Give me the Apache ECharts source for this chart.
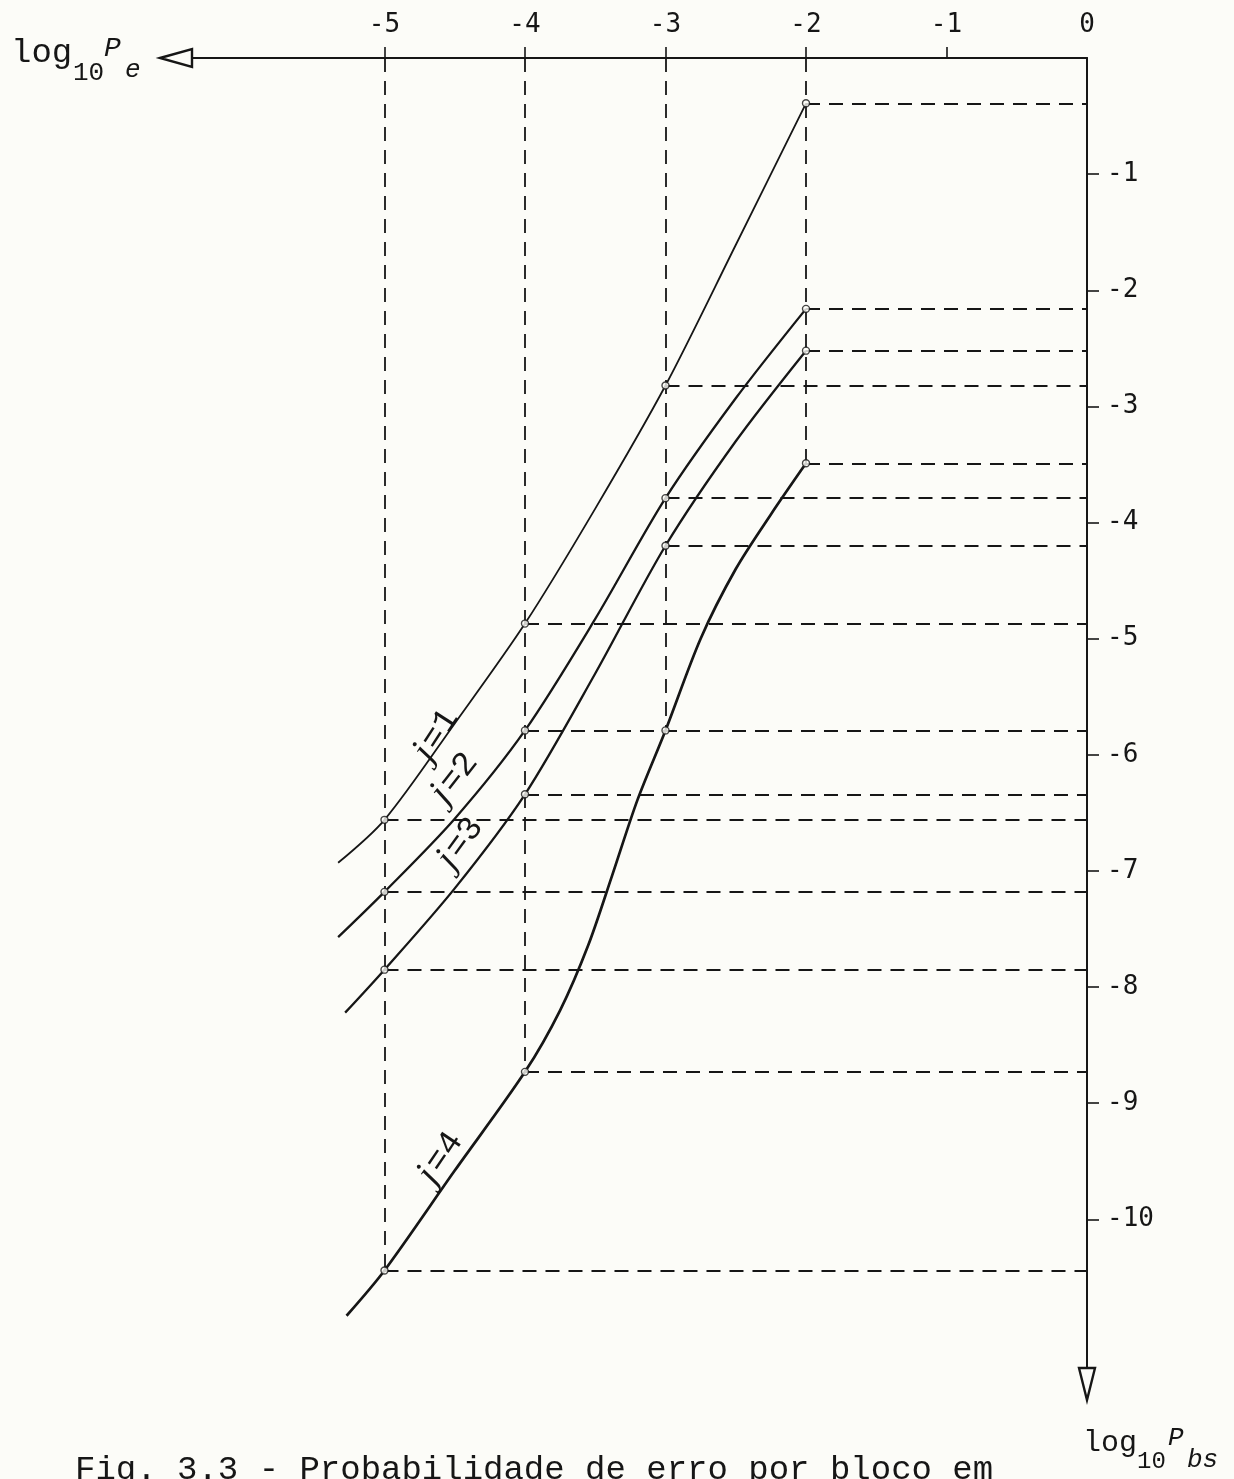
<!DOCTYPE html>
<html><head><meta charset="utf-8">
<script src="https://cdn.jsdelivr.net/npm/echarts@6/dist/echarts.min.js"></script>
<style>html,body{margin:0;padding:0;background:#fcfcf8;}#c{width:1234px;height:1479px;}</style>
</head><body><div id="c"></div>
<script>
// ---- data (log10 Pbs on x, log10 Pe on y) ----
const xTickValues = [-5, -4, -3, -2, -1];
const xLabelValues = [-5, -4, -3, -2, -1, 0];
const yLabelValues = [-1, -2, -3, -4, -5, -6, -7, -8, -9, -10];
const pointX = [-5, -4, -3, -2];
const j1Points = [-6.56, -4.87, -2.82, -0.39];
const j2Points = [-7.18, -5.79, -3.79, -2.16];
const j3Points = [-7.85, -6.34, -4.20, -2.52];
const j4Points = [-10.44, -8.73, -5.79, -3.49];
// curves (including the short tails left of -5)
const j1Curve = [[-5.33, -6.93], [-5, -6.56], [-4.5, -5.73], [-4, -4.87], [-3.5, -3.88], [-3, -2.82], [-2.5, -1.61], [-2, -0.39]];
const j2Curve = [[-5.33, -7.57], [-5, -7.18], [-4.5, -6.55], [-4, -5.79], [-3.5, -4.83], [-3, -3.79], [-2.5, -2.93], [-2, -2.16]];
const j3Curve = [[-5.28, -8.22], [-5, -7.85], [-4.5, -7.15], [-4, -6.34], [-3.5, -5.30], [-3, -4.20], [-2.5, -3.30], [-2, -2.52]];
const j4Curve = [[-5.27, -10.83], [-5, -10.44], [-4.5, -9.58], [-4, -8.73], [-3.75, -8.20], [-3.55, -7.64], [-3.38, -7.04], [-3.20, -6.39], [-3, -5.79], [-2.75, -5.00], [-2.50, -4.40], [-2.25, -3.93], [-2, -3.49]];
const curveNames = ['j=1', 'j=2', 'j=3', 'j=4'];
// label anchors (data coords) and text angles (deg)
const labelAnchors = [[-4.63, -5.83], [-4.50, -6.20], [-4.46, -6.76], [-4.60, -9.47]];
const labelAngles = [57, 52, 54, 56];

const INK = '#161616';
const PAPER = '#fcfcf8';
const chart = echarts.init(document.getElementById('c'), null, {renderer: 'canvas'});

const allPoints = [j1Points, j2Points, j3Points, j4Points];
const guides = [];
const seenY = {};
pointX.forEach((x, i) => {
  const ys = allPoints.map(a => a[i]);
  guides.push({coords: [[x, 0], [x, Math.min(...ys)]]});
});
pointX.forEach((x, i) => {
  allPoints.forEach(a => {
    const y = a[i];
    const key = y.toFixed(2);
    if (seenY[key]) return;
    seenY[key] = true;
    guides.push({coords: [[x, y], [0, y]]});
  });
});

const curves = [j1Curve, j2Curve, j3Curve, j4Curve];
const widths = [1.8, 2.3, 2.3, 2.7];
const series = [];
series.push({
  type: 'lines', coordinateSystem: 'cartesian2d', silent: true, z: 1,
  lineStyle: {color: INK, width: 1.8, type: [14, 9], opacity: 1},
  data: guides
});
curves.forEach((c, k) => {
  series.push({
    type: 'line', name: curveNames[k], data: c, smooth: 0.3, showSymbol: false, silent: true, z: 3,
    lineStyle: {color: INK, width: widths[k]}
  });
  series.push({
    type: 'scatter', data: pointX.map((x, i) => [x, allPoints[k][i]]), symbol: 'circle', symbolSize: 7, z: 4,
    itemStyle: {color: PAPER, borderColor: INK, borderWidth: 1.4}
  });
});

const labelFont = {fontFamily: 'DejaVu Sans Mono', fontSize: 26, color: INK};
chart.setOption({
  animation: false,
  backgroundColor: PAPER,
  grid: {left: 192, right: 147, top: 58, bottom: 111, containLabel: false},
  xAxis: {
    type: 'value', position: 'top', min: -6.37, max: 0,
    axisLine: {show: true, onZero: false, lineStyle: {color: INK, width: 2}},
    axisTick: {show: true, customValues: xTickValues, length: 11, lineStyle: {color: INK, width: 1.6}},
    axisLabel: Object.assign({customValues: xLabelValues, margin: 20, showMinLabel: true, showMaxLabel: true,
      formatter: v => String(v)}, labelFont),
    splitLine: {show: false}
  },
  yAxis: {
    type: 'value', position: 'right', min: -11.28, max: 0,
    axisLine: {show: true, onZero: false, lineStyle: {color: INK, width: 2}},
    axisTick: {show: true, customValues: yLabelValues, length: 12, lineStyle: {color: INK, width: 1.6}},
    axisLabel: Object.assign({customValues: yLabelValues, margin: 20, formatter: v => String(v)}, labelFont),
    splitLine: {show: false}
  },
  series: series
});

// ---- annotations ----
const g = [];
const pL = chart.convertToPixel({gridIndex: 0}, [-6.37, 0]);
g.push({type: 'polygon', shape: {points: [[pL[0] - 32, pL[1]], [pL[0], pL[1] - 9], [pL[0], pL[1] + 9]]},
  style: {fill: PAPER, stroke: INK, lineWidth: 2.4}, z: 10});
const pB = chart.convertToPixel({gridIndex: 0}, [0, -11.28]);
g.push({type: 'polygon', shape: {points: [[pB[0] - 8, pB[1]], [pB[0] + 8, pB[1]], [pB[0], pB[1] + 32]]},
  style: {fill: PAPER, stroke: INK, lineWidth: 2.4}, z: 10});

function txt(x, y, s, size, italic) {
  g.push({type: 'text', x: x, y: y, z: 10, style: {text: s, fontFamily: 'Liberation Mono', fontSize: size,
    fontStyle: italic ? 'italic' : 'normal', fill: INK, align: 'left', verticalAlign: 'middle'}});
}
// y-axis title (top-left)
txt(pL[0] - 181, pL[1] - 5, 'log', 34, false);
txt(pL[0] - 119, pL[1] + 15, '10', 26, false);
txt(pL[0] - 88, pL[1] - 9, 'P', 28, true);
txt(pL[0] - 67, pL[1] + 12, 'e', 26, true);
// x-axis title (bottom-right)
txt(pB[0] - 4, pB[1] + 75, 'log', 30, false);
txt(pB[0] + 50, pB[1] + 94, '10', 24, false);
txt(pB[0] + 81, pB[1] + 70, 'P', 26, true);
txt(pB[0] + 100, pB[1] + 92, 'bs', 26, true);
// caption (cut by the page edge)
txt(75, 1470, 'Fig. 3.3 - Probabilidade de erro por bloco em', 34, false);

// curve labels
labelAnchors.forEach((a, k) => {
  const p = chart.convertToPixel({gridIndex: 0}, a);
  g.push({type: 'text', x: p[0], y: p[1], rotation: labelAngles[k] * Math.PI / 180, z: 10,
    style: {text: '{j|j}{n|' + curveNames[k].slice(1) + '}', align: 'center', verticalAlign: 'middle',
      rich: {j: {fontFamily: 'Liberation Serif', fontStyle: 'italic', fontSize: 38, fill: INK, padding: [0, 3, 0, 0]},
             n: {fontFamily: 'Liberation Mono', fontSize: 34, fill: INK}}}});
});
chart.setOption({graphic: g});
</script></body></html>
